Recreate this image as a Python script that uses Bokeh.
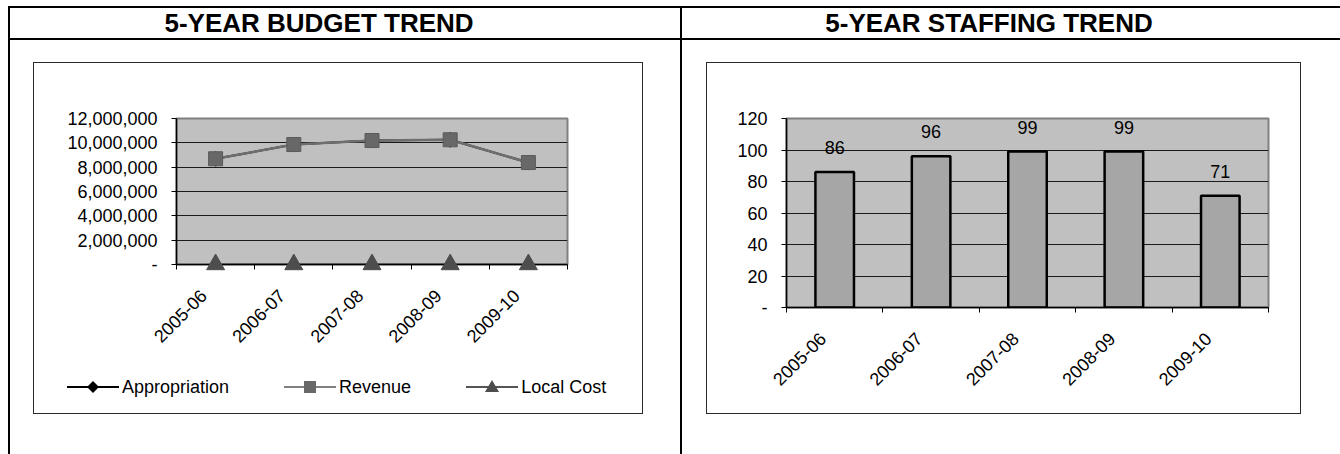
import math
from bokeh.plotting import figure
from bokeh.models import (ColumnDataSource, FixedTicker, NumeralTickFormatter,
                          Div, Spacer, Range1d)
from bokeh.layouts import row, column
from bokeh.embed import file_html
from bokeh.resources import INLINE
from bokeh.core.properties import value

# ---------------- data ----------------
years = ["2005-06", "2006-07", "2007-08", "2008-09", "2009-10"]
appropriation = [8690000, 9860000, 10190000, 10250000, 8380000]
revenue = [8690000, 9860000, 10190000, 10250000, 8380000]
local_cost = [0, 0, 0, 0, 0]
budget_ticks = [0, 2000000, 4000000, 6000000, 8000000, 10000000, 12000000]
staffing = [86, 96, 99, 99, 71]
staffing_ticks = [0, 20, 40, 60, 80, 100, 120]
budget_title = "5-YEAR BUDGET TREND"
staffing_title = "5-YEAR STAFFING TREND"
series_names = ["Appropriation", "Revenue", "Local Cost"]

FONT = "Liberation Sans"
LBL = "18px"

x = list(range(len(years)))
bounds = [i - 0.5 for i in range(len(years) + 1)]

# box geometry
BOX_TOP = 62
BOX_H = 414 - BOX_TOP
FIG_H = BOX_H - 2
PLOT_TOP = 118
LEG_H = 51
LABEL_SHIFT_PX = 12   # rotated category labels sit a little left of the category centre


def block(w, h, color):
    return Div(width=w, height=h, margin=0, styles={"background-color": color})


def boxed(inner, w):
    c = "#2a2a2a"
    return column(block(w + 2, 1, c),
                  row(block(1, FIG_H, c), inner, block(1, FIG_H, c)),
                  block(w + 2, 1, c))


def style_axes(p, frame_w):
    for ax in (p.xaxis[0], p.yaxis[0]):
        ax.axis_line_color = "black"
        ax.axis_line_width = 1.5
        ax.major_label_text_font = FONT
        ax.major_label_text_font_size = LBL
        ax.major_label_text_color = "black"
        ax.major_tick_line_color = "black"
        ax.minor_tick_line_color = "black"
    d = round(LABEL_SHIFT_PX * (bounds[-1] - bounds[0]) / frame_w, 4)
    lab_pos = [round(i - d, 4) for i in x]
    xa = p.xaxis[0]
    xa.ticker = FixedTicker(ticks=lab_pos, minor_ticks=bounds)
    xa.major_label_overrides = {t: y for t, y in zip(lab_pos, years)}
    xa.major_label_orientation = math.pi / 4
    xa.major_tick_out = 0
    xa.major_tick_in = 0
    xa.minor_tick_out = 5
    xa.minor_tick_in = 0
    xa.major_label_standoff = 23
    ya = p.yaxis[0]
    ya.major_tick_out = 5
    ya.major_tick_in = 0
    ya.minor_tick_line_color = None
    ya.major_label_standoff = 14
    p.xgrid.visible = False
    p.ygrid.grid_line_color = "#1a1a1a"
    p.ygrid.grid_line_width = 1


# ---------------- budget chart ----------------
src_b = ColumnDataSource(dict(x=x, app=appropriation, rev=revenue, lc=local_cost))
pL = figure(width=608, height=FIG_H - LEG_H,
            x_range=Range1d(bounds[0], bounds[-1]),
            y_range=Range1d(budget_ticks[0], budget_ticks[-1]),
            output_backend="svg", toolbar_location=None,
            min_border_left=142, min_border_right=75,
            min_border_top=PLOT_TOP - (BOX_TOP + 1),
            min_border_bottom=FIG_H - LEG_H - (264 - BOX_TOP - 1),
            background_fill_color="#c0c0c0", border_fill_color="white",
            outline_line_color="#808080", outline_line_width=2)
style_axes(pL, 608 - 142 - 75)
pL.yaxis[0].ticker = FixedTicker(ticks=budget_ticks)
pL.yaxis[0].formatter = NumeralTickFormatter(format="0,0")
pL.yaxis[0].major_label_overrides = {0: "-"}

styles = [
    dict(col="app", line=dict(line_color="black", line_width=2),
         mk=dict(marker="diamond", size=15, fill_color="black", line_color="black"),
         svg='<polygon points="26,4 32,10 26,16 20,10" fill="black"/>', lc="black"),
    dict(col="rev", line=dict(line_color="#6e6e6e", line_width=2.5),
         mk=dict(marker="square", size=14, fill_color="#686868", line_color="#5a5a5a"),
         svg='<rect x="20" y="4" width="12" height="12" fill="#686868"/>', lc="#808080"),
    dict(col="lc", line=dict(line_color="#555555", line_width=2),
         mk=dict(marker="triangle", size=18, fill_color="#4d4d4d", line_color="#4d4d4d",
                 level="overlay"),
         svg='<polygon points="26,3 33,15 19,15" fill="#4d4d4d"/>', lc="#555555"),
]
for st in styles:
    pL.line("x", st["col"], source=src_b, **st["line"])
    pL.scatter("x", st["col"], source=src_b, **st["mk"])

# legend strip (HTML) under the chart, inside the chart box
parts = []
for i, (name, st) in enumerate(zip(series_names, styles)):
    gap = "33px" if i == 0 else "55px"
    parts.append(
        f'<span style="display:inline-flex;align-items:center;margin-left:{gap}">'
        f'<svg width="52" height="20" style="display:block">'
        f'<line x1="0" y1="10" x2="52" y2="10" stroke="{st["lc"]}" stroke-width="2"/>'
        f'{st["svg"]}</svg>'
        f'<span style="margin-left:3px">{name}</span></span>')
legend_html = ('<div style="display:flex;align-items:center;height:51px;'
               f'font-family:\'{FONT}\';font-size:{LBL};color:black;white-space:nowrap">'
               + "".join(parts) + "</div>")
legend_div = Div(text=legend_html, width=608, height=LEG_H, margin=0)

# ---------------- staffing chart ----------------
src_s = ColumnDataSource(dict(x=x, v=staffing, t=[str(v) for v in staffing]))
pR = figure(width=593, height=FIG_H,
            x_range=Range1d(bounds[0], bounds[-1]),
            y_range=Range1d(staffing_ticks[0], staffing_ticks[-1]),
            output_backend="svg", toolbar_location=None,
            min_border_left=79, min_border_right=32,
            min_border_top=PLOT_TOP - (BOX_TOP + 1),
            min_border_bottom=FIG_H - (307 - BOX_TOP - 1),
            background_fill_color="#c0c0c0", border_fill_color="white",
            outline_line_color="#808080", outline_line_width=2)
style_axes(pR, 593 - 79 - 32)
pR.yaxis[0].ticker = FixedTicker(ticks=staffing_ticks)
pR.yaxis[0].major_label_overrides = {0: "-"}
pR.vbar(x="x", top="v", source=src_s, width=0.4, fill_color="#a6a6a6",
        line_color="black", line_width=2.5)
pR.text(x="x", y="v", text="t", source=src_s, text_align="center",
        text_baseline="bottom", y_offset=-18, text_font=value(FONT),
        text_font_size=LBL, text_color="black")

# ---------------- page layout ----------------
title_style = {"font-family": FONT, "font-size": "26px", "font-weight": "bold",
               "text-align": "center", "line-height": "30px", "color": "black",
               "white-space": "nowrap"}

top_line = row(Spacer(width=8, height=2), block(1332, 2, "black"))
header = row(Spacer(width=8, height=30), block(2, 30, "black"),
             Div(text=budget_title, width=618, height=30, margin=0, styles=title_style),
             Spacer(width=52, height=30), block(2, 30, "black"),
             Div(text=staffing_title, width=614, height=30, margin=0, styles=title_style),
             Spacer(width=44, height=30))
head_line = row(Spacer(width=8, height=2), block(1332, 2, "black"))

left_cell = column(Spacer(width=670, height=BOX_TOP - 40),
                   row(Spacer(width=23, height=BOX_H),
                       boxed(column(pL, legend_div), 608),
                       Spacer(width=37, height=BOX_H)),
                   Spacer(width=670, height=454 - BOX_TOP - BOX_H))
right_cell = column(Spacer(width=658, height=BOX_TOP - 40),
                    row(Spacer(width=24, height=BOX_H), boxed(pR, 593),
                        Spacer(width=39, height=BOX_H)),
                    Spacer(width=658, height=454 - BOX_TOP - BOX_H))
body = row(Spacer(width=8, height=414), block(2, 414, "black"), left_cell,
           block(2, 414, "black"), right_cell)

page = column(Spacer(width=1340, height=6), top_line, header, head_line, body)

open("out.html", "w").write(file_html(page, INLINE))
